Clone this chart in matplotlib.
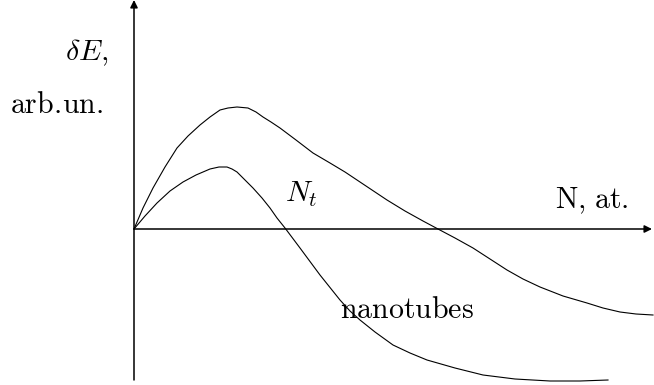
import matplotlib
matplotlib.use("Agg")
import matplotlib.pyplot as plt

plt.rcParams['mathtext.fontset'] = 'cm'
plt.rcParams['font.family'] = ['DejaVu Serif']

# Upper curve : N (arb.), dE (arb.)
N_upper = [0, 9, 19, 31, 43, 54, 66, 76, 86, 94, 103, 114, 122, 129, 137,
           146, 162, 179, 196, 211, 226, 253, 271, 289, 304, 321, 339, 356,
           373, 389, 406, 429, 453, 469, 486, 502, 519]
dE_upper = [0, 21, 41, 62, 81, 93, 104, 112, 119, 121, 122, 121, 117, 112,
            107, 101, 89, 76, 66, 57, 47, 29, 18, 8, 0, -9, -19, -30, -41,
            -50, -58, -67, -74, -79, -83, -85, -86]

# Lower curve (nanotubes)
N_lower = [0, 11, 23, 36, 49, 62, 76, 85, 93, 98, 103, 108, 113, 119, 128,
           136, 143, 151, 166, 186, 206, 216, 226, 241, 259, 276, 293, 321,
           349, 381, 416, 446, 474]
dE_lower = [0, 13, 26, 38, 47, 54, 60, 62, 62, 60, 57, 52, 47, 41, 31, 21,
            11, 1, -19, -46, -71, -82, -91, -103, -116, -124, -131, -139,
            -146, -150, -152, -152, -151]

fig = plt.figure(figsize=(6.54, 3.85), dpi=100)
ax = fig.add_axes([0, 0, 1, 1])
ax.set_xlim(-134, 520)
ax.set_ylim(-156, 229)
ax.axis('off')

# axes with arrows
ax.annotate('', xy=(518, 0), xytext=(0, 0),
            arrowprops=dict(arrowstyle='-|>', color='k', lw=1.1,
                            mutation_scale=11, shrinkA=0, shrinkB=0))
ax.annotate('', xy=(0, 229), xytext=(0, -151),
            arrowprops=dict(arrowstyle='-|>', color='k', lw=1.1,
                            mutation_scale=11, shrinkA=0, shrinkB=0))

ax.plot(N_upper, dE_upper, color='k', lw=0.8, solid_joinstyle='round')
ax.plot(N_lower, dE_lower, color='k', lw=0.8, solid_joinstyle='round')

fs = 21.5
ax.text(-69, 169, r'$\delta E,$', fontsize=fs, ha='left', va='baseline')
ax.text(-124, 116, r'$\mathrm{arb.\!un.}$', fontsize=fs, ha='left', va='baseline')
ax.text(151, 27, r'$N_t$', fontsize=fs, ha='left', va='baseline')
ax.text(421, 21, r'$\mathrm{N{,}\ at.}$', fontsize=fs, ha='left', va='baseline')
ax.text(206, -89, r'$\mathrm{nanotubes}$', fontsize=fs, ha='left', va='baseline')

fig.savefig('out.png', dpi=100)
